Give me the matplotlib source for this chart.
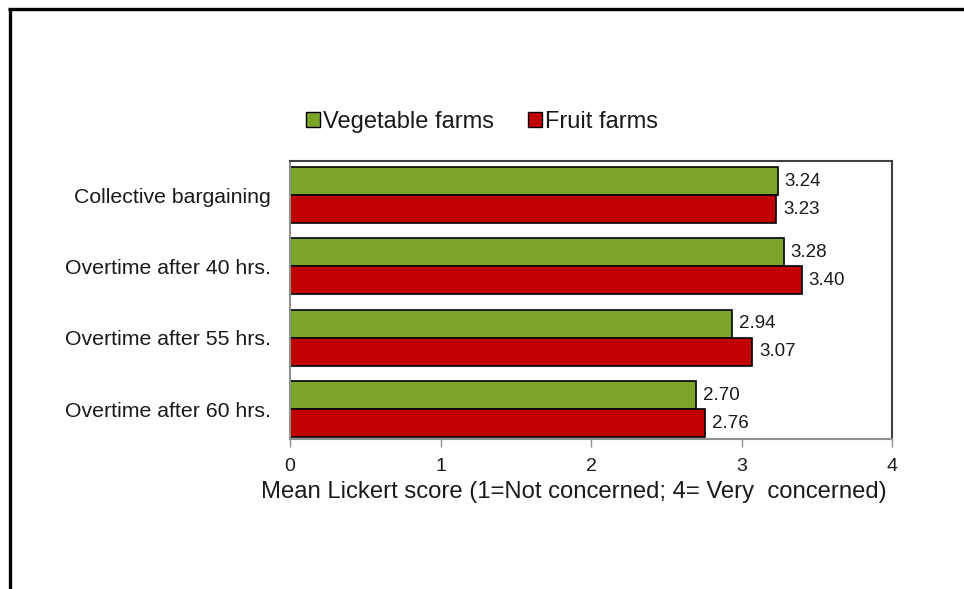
import numpy as np
import matplotlib
matplotlib.use("Agg")
import matplotlib.pyplot as plt
from matplotlib.patches import Patch
from matplotlib.lines import Line2D

plt.rcParams['font.family'] = ['Liberation Sans', 'DejaVu Sans']

categories = ["Collective bargaining", "Overtime after 40 hrs.",
              "Overtime after 55 hrs.", "Overtime after 60 hrs."]
vegetable = [3.24, 3.28, 2.94, 2.70]
fruit = [3.23, 3.40, 3.07, 2.76]
series_names = ["Vegetable farms", "Fruit farms"]
xticks = [0, 1, 2, 3, 4]

green = "#7ba428"
red = "#c00000"
txt = "#1a1a1a"

fig = plt.figure(figsize=(9.64, 5.89), dpi=100)
ax = fig.add_axes([290/964, 1-439/589, 602/964, 278/589])

y = np.arange(len(categories))
h = 0.393
b1 = ax.barh(y - h/2, vegetable, h, color=green, edgecolor="black", linewidth=1.2)
b2 = ax.barh(y + h/2, fruit, h, color=red, edgecolor="black", linewidth=1.2)
ax.bar_label(b1, fmt="%.2f", padding=5, fontsize=13.5, color=txt)
ax.bar_label(b2, fmt="%.2f", padding=5, fontsize=13.5, color=txt)

ax.set_xlim(0, 4)
ax.set_ylim(3.42, -0.477)
ax.set_xticks(xticks)
ax.set_xticklabels([str(t) for t in xticks], fontsize=14, color=txt)
ax.set_yticks(y)
ax.set_yticklabels(categories, fontsize=15.3, color=txt)
ax.tick_params(axis='y', length=0, pad=14)
ax.tick_params(axis='x', length=6, width=1, color="#909090", pad=8)

for side in ["left", "bottom"]:
    ax.spines[side].set_color("#909090")
    ax.spines[side].set_linewidth(1.5)
for side in ["top", "right"]:
    ax.spines[side].set_color("#404040")
    ax.spines[side].set_linewidth(1.5)

ax.set_xlabel("Mean Lickert score (1=Not concerned; 4= Very  concerned)", fontsize=17.2, color=txt)
ax.xaxis.set_label_coords(0.472, -0.152)

handles = [Patch(facecolor=green, edgecolor="black"), Patch(facecolor=red, edgecolor="black")]
fig.legend(handles, series_names, loc="center", bbox_to_anchor=(482/964, 1-122/589),
           ncol=2, frameon=False, fontsize=17, handlelength=0.6, handleheight=0.6,
           handletextpad=0.15, columnspacing=1.4, labelcolor=txt)

# figure frame (left and top only)
fig.add_artist(Line2D([9.5/964, 9.5/964], [0, 1-8/589], color="black", lw=2.4,
                      transform=fig.transFigure, solid_capstyle="butt"))
fig.add_artist(Line2D([8/964, 1], [1-8.5/589, 1-8.5/589], color="black", lw=2.4,
                      transform=fig.transFigure, solid_capstyle="butt"))

fig.savefig("out.png", dpi=100)
